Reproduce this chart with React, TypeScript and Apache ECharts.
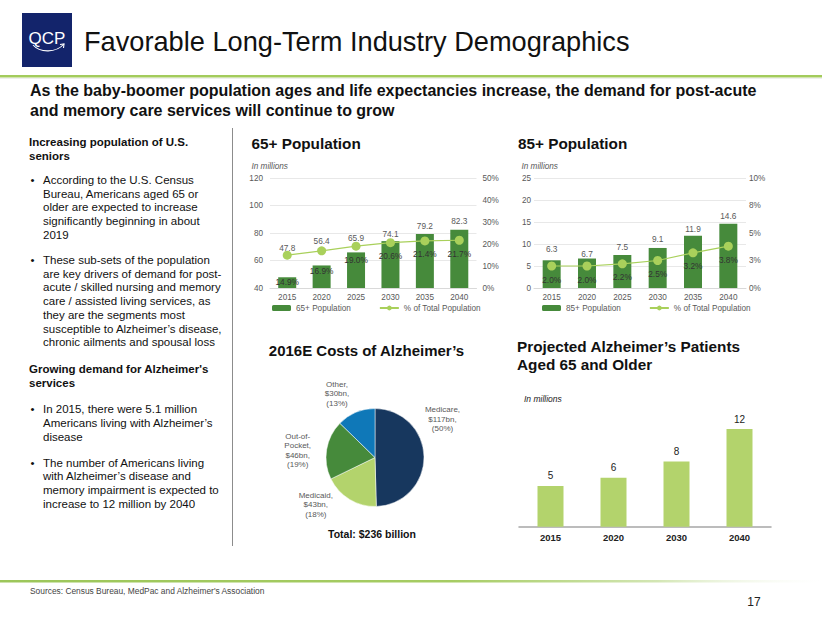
import React, { useEffect, useRef } from "react";
import * as echarts from "echarts";

const FONT = "'Liberation Sans', Arial, sans-serif";

// ---------- data ----------
const years65 = ["2015", "2020", "2025", "2030", "2035", "2040"];
const pop65 = [47.8, 56.4, 65.9, 74.1, 79.2, 82.3];
const pct65 = [14.9, 16.9, 19.0, 20.6, 21.4, 21.7];

const years85 = ["2015", "2020", "2025", "2030", "2035", "2040"];
const pop85 = [6.3, 6.7, 7.5, 9.1, 11.9, 14.6];
const pct85 = [2.0, 2.0, 2.2, 2.5, 3.2, 3.8];

const alzYears = ["2015", "2020", "2030", "2040"];
const alzPatients = [5, 6, 8, 12];

const costNames = ["Medicare", "Medicaid", "Out-of-Pocket", "Other"];
const costValues = [117, 43, 46, 30];
const costPcts = [50, 18, 19, 13];
const costTotal = 236;

const axis65Left = { min: 40, max: 120, interval: 20 };
const axis65Right = { min: 0, max: 50, interval: 10 };
const axis85Left = { min: 0, max: 25, interval: 5 };
const axis85Right = { min: 0, max: 10, interval: 2.5 };

// ---------- styling / layout (not data) ----------
const DARK_GREEN = "#468a3b";
const LIGHT_GREEN = "#a9d05b";
const ALZ_GREEN = "#b3d36c";
const NAVY = "#17375e";
const BLUE = "#0f78b8";
const GREY_TXT = "#595959";

// per-bar extra label distances (reproducing the manual label placement)
const barLabelDist65 = [25.5, 20, 10, 3.5, 4, 4.5];
const pctLabelDist65 = [18.5, 11.5, 5, 5, 5, 5];
const barLabelDist85 = [7, 0.5, 4, 5, 3, 3.5];
const pctLabelDist85 = [5, 5, 5, 5, 5, 5];

const pieColors = [NAVY, ALZ_GREEN, DARK_GREEN, BLUE];
const pieLabelPos: [number, number][] = [
  [442.5, 405],
  [315.8, 490.5],
  [297.7, 431.5],
  [337, 379.5],
];

const leftBlocks: { x: number; y: number; bold: boolean; bullet: boolean; text: string }[] = [
  { x: 29, y: 135, bold: true, bullet: false, text: "Increasing population of U.S.\nseniors" },
  {
    x: 43, y: 173.2, bold: false, bullet: true,
    text: "According to the U.S. Census\nBureau, Americans aged 65 or\nolder are expected to increase\nsignificantly beginning in about\n2019",
  },
  {
    x: 43, y: 253.2, bold: false, bullet: true,
    text: "These sub-sets of the population\nare key drivers of demand for post-\nacute / skilled nursing and memory\ncare / assisted living services, as\nthey are the segments most\nsusceptible to Alzheimer\u2019s disease,\nchronic ailments and spousal loss",
  },
  { x: 29, y: 362.5, bold: true, bullet: false, text: "Growing demand for Alzheimer's\nservices" },
  {
    x: 43, y: 402.5, bold: false, bullet: true,
    text: "In 2015, there were 5.1 million\nAmericans living with Alzheimer\u2019s\ndisease",
  },
  {
    x: 43, y: 455.8, bold: false, bullet: true,
    text: "The number of Americans living\nwith Alzheimer\u2019s disease and\nmemory impairment is expected to\nincrease to 12 million by 2040",
  },
];

function txt(x: number, y: number, text: string, o: any = {}) {
  return {
    type: "text",
    x,
    y,
    silent: true,
    style: {
      text,
      fontFamily: FONT,
      fontSize: o.size ?? 11.5,
      fontWeight: o.bold ? "bold" : "normal",
      fontStyle: o.italic ? "italic" : "normal",
      fill: o.color ?? "#000",
      textAlign: o.align ?? "left",
      textVerticalAlign: o.valign ?? "top",
      lineHeight: o.lh,
    },
  };
}

function buildGraphics() {
  const g: any[] = [];
  // logo
  g.push({ type: "rect", shape: { x: 22, y: 13, width: 50, height: 54 }, style: { fill: "#13246b" }, silent: true });
  g.push(txt(47, 38.5, "QCP", { size: 17, color: "#fff", align: "center", valign: "middle" }));
  g.push({
    type: "bezierCurve",
    shape: { x1: 33, y1: 45, cpx1: 40, cpy1: 53, cpx2: 56, cpy2: 53, x2: 64, y2: 44 },
    style: { stroke: "#fff", lineWidth: 1.1, fill: null },
    silent: true,
  });
  g.push({
    type: "polyline",
    shape: { points: [[60, 44.5], [64, 44], [63.5, 48]] },
    style: { stroke: "#fff", lineWidth: 1.1, fill: null },
    silent: true,
  });
  // title
  g.push(txt(84, 41, "Favorable Long-Term Industry Demographics", { size: 27.2, color: "#111", valign: "middle" }));
  // header line
  g.push({ type: "rect", shape: { x: 0, y: 75, width: 822, height: 2.5 }, style: { fill: "#a3cb5c" }, silent: true });
  g.push({ type: "rect", shape: { x: 0, y: 78, width: 822, height: 1 }, style: { fill: "#eeeeee" }, silent: true });
  // subtitle
  g.push(
    txt(30, 100.5,
      "As the baby-boomer population ages and life expectancies increase, the demand for post-acute\nand memory care services will continue to grow",
      { size: 16, bold: true, color: "#111", valign: "middle", lh: 19.6 })
  );
  // separator
  g.push({ type: "line", shape: { x1: 232.5, y1: 128, x2: 232.5, y2: 546 }, style: { stroke: "#8c8c8c", lineWidth: 1 }, silent: true });
  // left column
  leftBlocks.forEach((b) => {
    g.push(txt(b.x, b.y, b.text, { size: 11.5, bold: b.bold, color: "#111", lh: 13.7 }));
    if (b.bullet) g.push(txt(30.5, b.y, "\u2022", { size: 11.5, color: "#111", lh: 13.7 }));
  });
  // chart titles
  g.push(txt(251.5, 143, "65+ Population", { size: 15.3, bold: true, color: "#111", valign: "middle" }));
  g.push(txt(251.5, 166, "In millions", { size: 8.2, italic: true, color: GREY_TXT, valign: "middle" }));
  g.push(txt(518, 143, "85+ Population", { size: 15.3, bold: true, color: "#111", valign: "middle" }));
  g.push(txt(521.5, 166, "In millions", { size: 8.2, italic: true, color: GREY_TXT, valign: "middle" }));
  g.push(txt(366.5, 350, "2016E Costs of Alzheimer\u2019s", { size: 15, bold: true, color: "#111", align: "center", valign: "middle" }));
  g.push(txt(517, 355.4, "Projected Alzheimer\u2019s Patients\nAged 65 and Older", { size: 15.3, bold: true, color: "#111", valign: "middle", lh: 17.4 }));
  g.push(txt(524, 399, "In millions", { size: 8.5, italic: true, color: "#222", valign: "middle" }));
  // pie labels
  costNames.forEach((n, i) => {
    const label = n.replace("Out-of-", "Out-of-\n") + ",\n$" + costValues[i] + "bn,\n(" + costPcts[i] + "%)";
    g.push(txt(pieLabelPos[i][0], pieLabelPos[i][1], label, { size: 8, color: GREY_TXT, align: "center", lh: 9.5 }));
  });
  g.push(txt(372, 534, "Total: $" + costTotal + " billion", { size: 10.5, bold: true, color: "#111", align: "center", valign: "middle" }));
  // footer
  g.push({
    type: "rect",
    shape: { x: 0, y: 580, width: 822, height: 2.5 },
    style: {
      fill: new echarts.graphic.LinearGradient(0, 0, 1, 0, [
        { offset: 0, color: "#9cc65a" },
        { offset: 0.55, color: "#a6cc63" },
        { offset: 0.8, color: "#d3e6b4" },
        { offset: 1, color: "rgba(255,255,255,0.2)" },
      ]),
    },
    silent: true,
  });
  g.push(txt(30, 590.5, "Sources: Census Bureau, MedPac and Alzheimer's Association", { size: 8.4, color: "#444", valign: "middle" }));
  g.push(txt(754, 602, "17", { size: 12, color: "#222", align: "center", valign: "middle" }));
  return g;
}

const axisLabelStyle = { color: GREY_TXT, fontSize: 8.2, fontFamily: FONT };

function App() {
  const ref = useRef<HTMLDivElement>(null);
  useEffect(() => {
    document.body.style.margin = "0";
    const chart = echarts.init(ref.current!, null, { renderer: "svg" });
    const option: any = {
      animation: false,
      backgroundColor: "#fff",
      textStyle: { fontFamily: FONT },
      grid: [
        { left: 270, top: 178, width: 206.5, height: 110 },
        { left: 534, top: 178, width: 212, height: 110 },
        { left: 519, top: 429, width: 252, height: 97.7 },
      ],
      xAxis: [
        {
          type: "category", gridIndex: 0, data: years65,
          axisLine: { lineStyle: { color: "#d9d9d9" } }, axisTick: { show: false },
          axisLabel: { ...axisLabelStyle, margin: 5 },
        },
        {
          type: "category", gridIndex: 1, data: years85,
          axisLine: { lineStyle: { color: "#d9d9d9" } }, axisTick: { show: false },
          axisLabel: { ...axisLabelStyle, margin: 5 },
        },
        {
          type: "category", gridIndex: 2, data: alzYears,
          axisLine: { lineStyle: { color: "#a6a6a6", width: 1.5 } }, axisTick: { show: false },
          axisLabel: { color: "#222", fontSize: 9.5, fontWeight: "bold", fontFamily: FONT, margin: 6 },
        },
      ],
      yAxis: [
        {
          type: "value", gridIndex: 0, ...axis65Left,
          axisLabel: { ...axisLabelStyle, margin: 7 },
          splitLine: { lineStyle: { color: "#e8e8e8" } }, axisLine: { show: false }, axisTick: { show: false },
        },
        {
          type: "value", gridIndex: 0, position: "right", ...axis65Right,
          axisLabel: { ...axisLabelStyle, margin: 6, formatter: "{value}%" },
          splitLine: { show: false }, axisLine: { show: false }, axisTick: { show: false },
        },
        {
          type: "value", gridIndex: 1, ...axis85Left,
          axisLabel: { ...axisLabelStyle, margin: 3 },
          splitLine: { lineStyle: { color: "#e8e8e8" } }, axisLine: { show: false }, axisTick: { show: false },
        },
        {
          type: "value", gridIndex: 1, position: "right", ...axis85Right,
          axisLabel: { ...axisLabelStyle, margin: 3, formatter: (v: number) => Math.round(v) + "%" },
          splitLine: { show: false }, axisLine: { show: false }, axisTick: { show: false },
        },
        { type: "value", gridIndex: 2, min: 0, max: 12, show: false },
      ],
      legend: [
        {
          data: ["65+ Population", "% of Total Population"],
          left: 272, top: 304, padding: 0, itemWidth: 19, itemHeight: 6, itemGap: 28,
          textStyle: { color: GREY_TXT, fontSize: 8.2, fontFamily: FONT },
        },
        {
          data: ["85+ Population", "% of Total Population"],
          left: 542, top: 304, padding: 0, itemWidth: 19, itemHeight: 6, itemGap: 28,
          textStyle: { color: GREY_TXT, fontSize: 8.2, fontFamily: FONT },
        },
      ],
      graphic: buildGraphics(),
      series: [
        {
          name: "65+ Population", type: "bar", xAxisIndex: 0, yAxisIndex: 0, barWidth: 18,
          itemStyle: { color: DARK_GREEN },
          data: pop65.map((v, i) => ({ value: v, label: { distance: barLabelDist65[i] } })),
          label: { show: true, position: "top", color: GREY_TXT, fontSize: 8.3, formatter: (p: any) => p.value.toFixed(1) },
        },
        {
          name: "% of Total Population", type: "line", xAxisIndex: 0, yAxisIndex: 1,
          symbol: "circle", symbolSize: 9,
          lineStyle: { color: LIGHT_GREEN, width: 1.2 }, itemStyle: { color: LIGHT_GREEN },
          data: pct65.map((v, i) => ({ value: v, label: { distance: pctLabelDist65[i] } })),
          label: { show: true, position: "bottom", color: "#333", fontSize: 8.3, formatter: (p: any) => p.value.toFixed(1) + "%" },
          z: 3,
        },
        {
          name: "85+ Population", type: "bar", xAxisIndex: 1, yAxisIndex: 2, barWidth: 18,
          itemStyle: { color: DARK_GREEN },
          data: pop85.map((v, i) => ({ value: v, label: { distance: barLabelDist85[i] } })),
          label: { show: true, position: "top", color: GREY_TXT, fontSize: 8.3, formatter: (p: any) => p.value.toFixed(1) },
        },
        {
          name: "% of Total Population", type: "line", xAxisIndex: 1, yAxisIndex: 3,
          symbol: "circle", symbolSize: 9,
          lineStyle: { color: LIGHT_GREEN, width: 1.2 }, itemStyle: { color: LIGHT_GREEN },
          data: pct85.map((v, i) => ({ value: v, label: { distance: pctLabelDist85[i] } })),
          label: { show: true, position: "bottom", color: "#333", fontSize: 8.3, formatter: (p: any) => p.value.toFixed(1) + "%" },
          z: 3,
        },
        {
          name: "Costs", type: "pie", center: [375, 457.5], radius: 49, startAngle: 90, clockwise: true,
          label: { show: false }, labelLine: { show: false },
          itemStyle: { borderColor: "#fff", borderWidth: 0.5 },
          data: costNames.map((n, i) => ({ name: n, value: costValues[i], itemStyle: { color: pieColors[i] } })),
        },
        {
          name: "Alzheimer's Patients", type: "bar", xAxisIndex: 2, yAxisIndex: 4, barWidth: 26,
          itemStyle: { color: ALZ_GREEN },
          data: alzPatients,
          label: { show: true, position: "top", color: "#222", fontSize: 10, distance: 5 },
        },
      ],
    };
    chart.setOption(option);
    return () => chart.dispose();
  }, []);
  return <div ref={ref} style={{ position: "absolute", left: 0, top: 0, width: 822, height: 635 }} />;
}

export default App;
